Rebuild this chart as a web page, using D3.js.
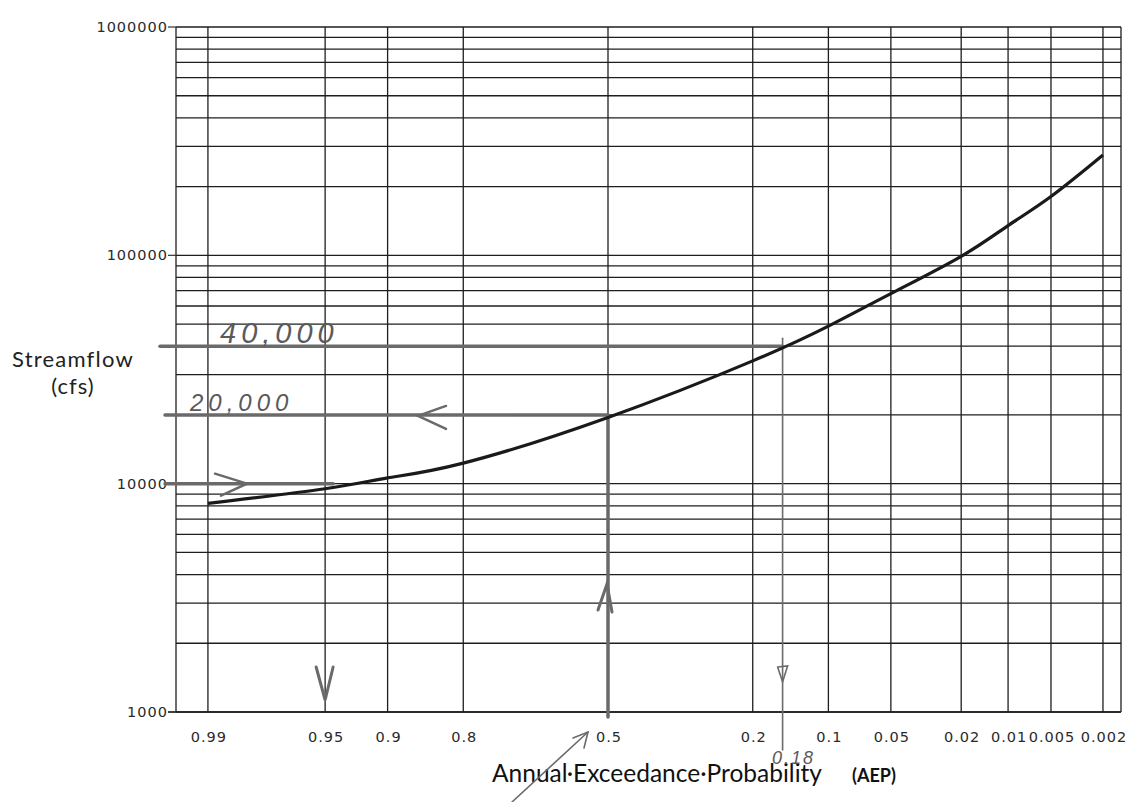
<!DOCTYPE html>
<meta charset="utf-8">
<script src="https://cdn.jsdelivr.net/npm/d3@7/dist/d3.min.js"></script>
<head>
	<title>Streamflow frequency curve</title>
	<style>
		body { margin: 0; background: #fff; }
		.tick-label { font-family: "DejaVu Sans", Verdana, sans-serif; font-size: 14.5px; fill: #2a2a2a; letter-spacing: 1px; }
		.hand { font-family: "Liberation Sans", sans-serif; font-style: italic; fill: #5a5a5a; }
	</style>
</head>
<body>
<div id="chart"></div>
<script>
	// probability ticks on the x axis (annual exceedance probability)
	var aepTicks = [0.99, 0.95, 0.9, 0.8, 0.5, 0.2, 0.1, 0.05, 0.02, 0.01, 0.005, 0.002];
	var aepLabels = ["0.99", "0.95", "0.9", "0.8", "0.5", "0.2", "0.1", "0.05", "0.02", "0.01", "0.005", "0.002"];

	// streamflow decades on the y axis
	var flowTicks = [1000, 10000, 100000, 1000000];
	var flowLabels = ["1000", "10000", "100000", "1000000"];

	// frequency curve
	var curveAEP  = [0.99, 0.95, 0.9, 0.8, 0.5, 0.2, 0.1, 0.05, 0.02, 0.01, 0.005, 0.002];
	var curveFlow = [8200, 9500, 10600, 12300, 19500, 34500, 49000, 68000, 99000, 135000, 181000, 275000];

	// hand drawn reading lines (the "0.18" line sits where it was drawn)
	var readFlows = [40000, 20000, 10000];
	var readFlowText = ["40,000", "20,000"];
	var readAEP = [0.155, 0.5, 0.95];
	var readAEPText = ["0.18"];

	var width = 1145, height = 802;
	var plot = {left: 176, right: 1121, top: 27, bottom: 712};

	var svg = d3.select("#chart").append("svg")
		.attr("width", width)
		.attr("height", height);

	// inverse normal cdf (Acklam) for probability paper
	function qnorm(p) {
		var a = [-39.69683028665376, 220.9460984245205, -275.9285104469687, 138.3577518672690, -30.66479806614716, 2.506628277459239],
			b = [-54.47609879822406, 161.5858368580409, -155.6989798598866, 66.80131188771972, -13.28068155288572],
			c = [-0.007784894002430293, -0.3223964580411365, -2.400758277161838, -2.549732539343734, 4.374664141464968, 2.938163982698783],
			d = [0.007784695709041462, 0.3224671290700398, 2.445134137142996, 3.754408661907416];
		var pl = 0.02425, q, r;
		if (p < pl) {
			q = Math.sqrt(-2 * Math.log(p));
			return (((((c[0]*q+c[1])*q+c[2])*q+c[3])*q+c[4])*q+c[5]) / ((((d[0]*q+d[1])*q+d[2])*q+d[3])*q+1);
		} else if (p <= 1 - pl) {
			q = p - 0.5; r = q * q;
			return (((((a[0]*r+a[1])*r+a[2])*r+a[3])*r+a[4])*r+a[5])*q / (((((b[0]*r+b[1])*r+b[2])*r+b[3])*r+b[4])*r+1);
		} else {
			q = Math.sqrt(-2 * Math.log(1 - p));
			return -(((((c[0]*q+c[1])*q+c[2])*q+c[3])*q+c[4])*q+c[5]) / ((((d[0]*q+d[1])*q+d[2])*q+d[3])*q+1);
		}
	}

	var zScale = d3.scaleLinear().domain([2.512, -2.983]).range([plot.left, plot.right]);
	var x = function(p) { return zScale(qnorm(p)); };
	var y = d3.scaleLog().domain([1000, 1000000]).range([plot.bottom, plot.top]);

	// horizontal grid: 1..9 in each decade
	var hLines = [];
	for (var k = 3; k < 6; k++) {
		for (var m = 1; m < 10; m++) hLines.push(m * Math.pow(10, k));
	}
	hLines.push(1000000);

	var grid = svg.append("g").attr("stroke", "#1e1e1e").attr("stroke-width", 1.3);
	grid.selectAll(".h").data(hLines).enter().append("line")
		.attr("x1", plot.left).attr("x2", plot.right)
		.attr("y1", d => y(d)).attr("y2", d => y(d));
	grid.selectAll(".v").data(aepTicks).enter().append("line")
		.attr("x1", d => x(d)).attr("x2", d => x(d))
		.attr("y1", plot.top).attr("y2", plot.bottom);
	// frame
	grid.append("line").attr("x1", plot.left).attr("x2", plot.left).attr("y1", plot.top).attr("y2", plot.bottom);
	grid.append("line").attr("x1", plot.right).attr("x2", plot.right).attr("y1", plot.top).attr("y2", plot.bottom);
	grid.append("line").attr("x1", plot.left - 8).attr("x2", plot.right).attr("y1", plot.bottom).attr("y2", plot.bottom);

	// y axis ticks and labels
	svg.append("g").selectAll("line").data(flowTicks).enter().append("line")
		.attr("x1", plot.left - 8).attr("x2", plot.left)
		.attr("y1", d => y(d)).attr("y2", d => y(d))
		.attr("stroke", "#333").attr("stroke-width", 1.2);
	svg.append("g").selectAll("text").data(flowTicks).enter().append("text")
		.attr("class", "tick-label")
		.attr("x", plot.left - 8)
		.attr("y", d => y(d) + 5)
		.attr("text-anchor", "end")
		.text((d, i) => flowLabels[i]);

	// x axis labels
	svg.append("g").selectAll("text").data(aepTicks).enter().append("text")
		.attr("class", "tick-label")
		.attr("x", d => x(d) + 1)
		.attr("y", 742)
		.attr("text-anchor", "middle")
		.text((d, i) => aepLabels[i]);

	// axis titles
	svg.append("text")
		.attr("x", 73).attr("y", 367)
		.attr("text-anchor", "middle")
		.style("font-family", "Lato, sans-serif").style("font-size", "22px").style("letter-spacing", "1.2px")
		.attr("fill", "#222")
		.text("Streamflow");
	svg.append("text")
		.attr("x", 73).attr("y", 394)
		.attr("text-anchor", "middle")
		.style("font-family", "Lato, sans-serif").style("font-size", "22px").style("letter-spacing", "1px")
		.attr("fill", "#222")
		.text("(cfs)");
	svg.append("text")
		.attr("x", 492).attr("y", 782)
		.style("font-family", "Lato, sans-serif").style("font-size", "24.5px")
		.attr("fill", "#111")
		.text("Annual·Exceedance·Probability");
	svg.append("text")
		.attr("x", 852).attr("y", 782)
		.style("font-family", "Lato, sans-serif").style("font-size", "18px").style("font-weight", "bold")
		.attr("fill", "#111")
		.text("(AEP)");

	// hand drawn reading lines (pencil)
	var pencil = svg.append("g").attr("stroke", "#6a6a6a").attr("fill", "none").attr("stroke-linecap", "round");

	// 40,000 line and the drop to the probability axis
	pencil.append("line")
		.attr("x1", 160).attr("x2", x(readAEP[0]))
		.attr("y1", y(readFlows[0])).attr("y2", y(readFlows[0]))
		.attr("stroke-width", 3.5);
	pencil.append("line")
		.attr("x1", x(readAEP[0])).attr("x2", x(readAEP[0]))
		.attr("y1", y(readFlows[0]) - 8).attr("y2", 750)
		.attr("stroke-width", 1.6);
	pencil.append("path")
		.attr("d", d3.line()([[x(readAEP[0]) - 5, 667], [x(readAEP[0]) + 5, 666], [x(readAEP[0]), 682], [x(readAEP[0]) - 5, 667]]))
		.attr("stroke-width", 1.6);

	// 20,000 at 0.5
	pencil.append("line")
		.attr("x1", 165).attr("x2", x(readAEP[1]))
		.attr("y1", y(readFlows[1])).attr("y2", y(readFlows[1]))
		.attr("stroke-width", 3.5);
	pencil.append("line")
		.attr("x1", x(readAEP[1])).attr("x2", x(readAEP[1]))
		.attr("y1", y(readFlows[1])).attr("y2", plot.bottom + 5)
		.attr("stroke-width", 3.5);
	pencil.append("path")
		.attr("d", d3.line()([[446, y(readFlows[1]) - 9], [418, y(readFlows[1]) + 1], [446, y(readFlows[1]) + 14]]))
		.attr("stroke-width", 2.5);
	pencil.append("path")
		.attr("d", d3.line()([[x(readAEP[1]) - 10, 610], [x(readAEP[1]) - 1, 584], [x(readAEP[1]) + 4, 612]]))
		.attr("stroke-width", 3);

	// 10,000 at 0.95
	pencil.append("line")
		.attr("x1", 165).attr("x2", x(readAEP[2]) + 8)
		.attr("y1", y(readFlows[2])).attr("y2", y(readFlows[2]))
		.attr("stroke-width", 3.5);
	pencil.append("path")
		.attr("d", d3.line()([[215, y(readFlows[2]) - 10], [247, y(readFlows[2])], [221, y(readFlows[2]) + 12]]))
		.attr("stroke-width", 2.5);
	pencil.append("path")
		.attr("d", d3.line()([[x(readAEP[2]) - 9, 667], [x(readAEP[2]), 700], [x(readAEP[2]) + 8, 667]]))
		.attr("stroke-width", 3);

	// pointer to 0.5 under the axis
	pencil.append("path")
		.attr("d", d3.line()([[512, 802], [588, 732]]))
		.attr("stroke-width", 1.6);
	pencil.append("path")
		.attr("d", d3.line()([[573, 738], [588, 732], [584, 748]]))
		.attr("stroke-width", 1.6);

	// hand lettering
	svg.append("text").attr("class", "hand")
		.attr("x", 220).attr("y", 343)
		.style("font-size", "29px").style("letter-spacing", "5px")
		.text(readFlowText[0]);
	svg.append("text").attr("class", "hand")
		.attr("x", 190).attr("y", 411)
		.style("font-size", "24px").style("letter-spacing", "5px")
		.text(readFlowText[1]);
	svg.append("text").attr("class", "hand")
		.attr("x", 772).attr("y", 764)
		.style("font-size", "18px").style("letter-spacing", "2px")
		.text(readAEPText[0]);

	// frequency curve
	var pts = curveAEP.map((p, i) => [x(p), y(curveFlow[i])]);
	svg.append("path")
		.datum(pts)
		.attr("d", d3.line().curve(d3.curveNatural))
		.attr("fill", "none")
		.attr("stroke", "#1a1a1a")
		.attr("stroke-width", 3.2);
</script>
</body>
